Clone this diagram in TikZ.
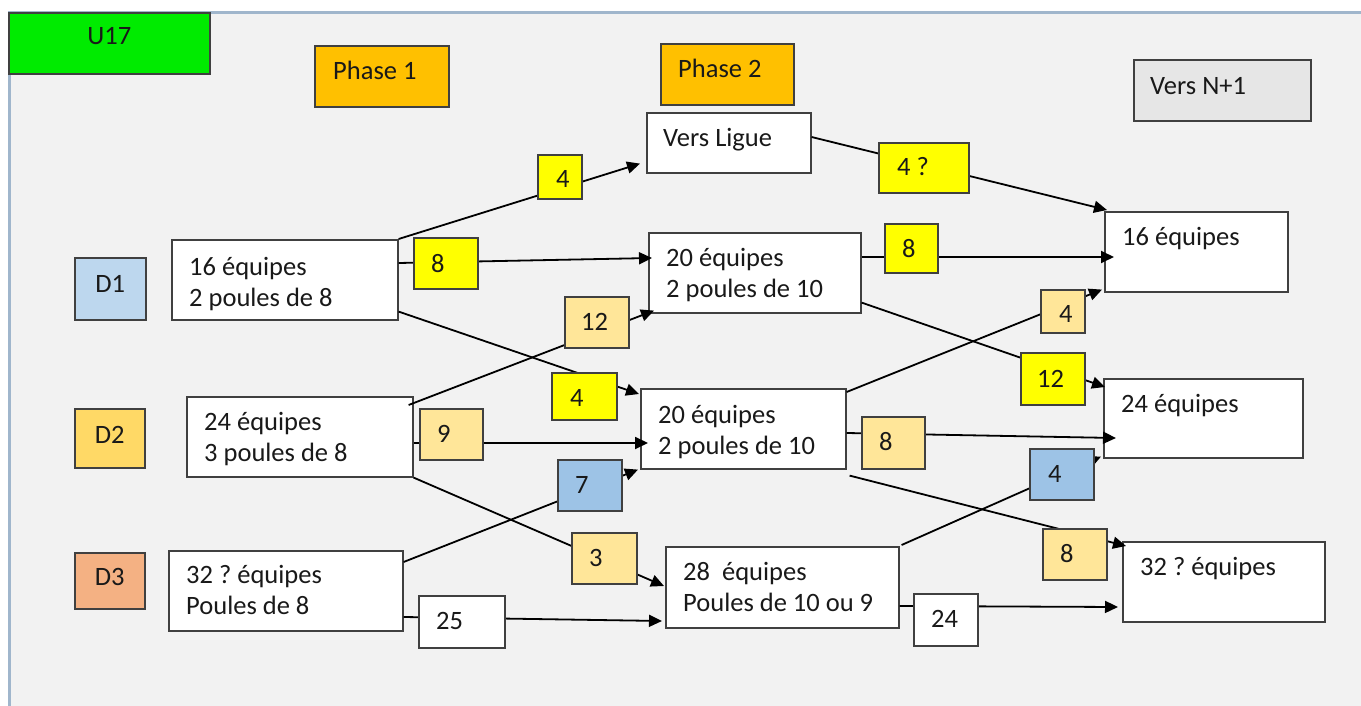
\documentclass[tikz,border=0pt]{standalone}
\usepackage{fontspec}
\setmainfont{Carlito}
\usetikzlibrary{calc,arrows.meta}
\pgfdeclarelayer{panel}
\pgfsetlayers{panel,main}
\definecolor{panelgray}{RGB}{242,242,242}
\definecolor{framecol}{RGB}{160,182,204}
\definecolor{u17green}{RGB}{0,235,0}
\definecolor{phaseorange}{RGB}{255,192,0}
\definecolor{nplus}{RGB}{230,230,230}
\definecolor{d1blue}{RGB}{189,215,238}
\definecolor{d2gold}{RGB}{255,217,102}
\definecolor{d3salmon}{RGB}{244,177,131}
\definecolor{labyellow}{RGB}{255,255,0}
\definecolor{labgold}{RGB}{255,230,153}
\definecolor{labblue}{RGB}{157,195,230}
\definecolor{edgegray}{RGB}{64,64,64}
\frenchspacing
\newcommand{\mkbox}[6]{\node[boxbase, fill=#2, minimum width={#5-#3}, minimum height={#6-#4}, anchor=north west] (#1) at (#3,#4) {};}
\newcommand{\mktxt}[4]{\node[txt, anchor=base west] (#1t) at ($(#1.north west)+(#2,#3)$) {#4};}
\newcommand{\mkctr}[3]{\node[txt, anchor=base] (#1t) at ($(#1.north)+(0,#2)$) {#3};}
\newcommand{\twol}[2]{\begin{tabular}[t]{@{}l@{}}#1\\#2\end{tabular}}
\begin{document}
\begin{tikzpicture}[x=1pt, y=-1pt,
  boxbase/.style={draw=edgegray, line width=1.6pt, inner sep=0pt, rectangle},
  txt/.style={inner sep=0pt, font=\fontsize{26.5}{31.5}\selectfont\frenchspacing, text=black!90},
  conn/.style={line width=1.8pt, draw=black, -{Triangle[length=13pt,width=12pt]}}]
\useasboundingbox (0,0) rectangle (1361,706);
\begin{pgfonlayer}{panel}
\fill[panelgray] (8,12) rectangle (1361,706);
\draw[framecol, line width=3pt] (9,706) -- (9,13) -- (1361,13);
\end{pgfonlayer}
% headers
\mkbox{U}{u17green}{8}{12}{209}{73}
\mkctr{U}{33}{U17}
\mkbox{PhA}{phaseorange}{314}{45}{448}{106}
\mktxt{PhA}{19}{35}{Phase 1}
\mkbox{PhB}{phaseorange}{660}{43}{793}{104}
\mktxt{PhB}{18}{35}{Phase 2}
\mkbox{NP}{nplus}{1133}{59}{1310}{120}
\mktxt{NP}{17}{36}{Vers N+1}
\mkbox{VL}{white}{646}{112}{810}{172}
\mktxt{VL}{17}{35}{Vers Ligue}
% divisions
\mkbox{DA}{d1blue}{74}{257}{145}{319}
\mkctr{DA}{35}{D1}
\mkbox{DB}{d2gold}{74}{408}{144}{467}
\mkctr{DB}{35}{D2}
\mkbox{DC}{d3salmon}{74}{552}{144}{608}
\mkctr{DC}{33}{D3}
% phase 1
\mkbox{A}{white}{171}{239}{397}{319}
\mktxt{A}{18}{36}{\twol{16 équipes}{2 poules de 8}}
\mkbox{B}{white}{186}{396}{412}{476}
\mktxt{B}{18}{34}{\twol{24 équipes}{3 poules de 8}}
\mkbox{C}{white}{168}{550}{402}{630}
\mktxt{C}{18}{33}{\twol{32 ? équipes}{Poules de 8}}
% phase 2
\mkbox{P}{white}{648}{232}{860}{312}
\mktxt{P}{18}{34}{\twol{20 équipes}{2 poules de 10}}
\mkbox{Q}{white}{640}{388}{845}{468}
\mktxt{Q}{18}{35}{\twol{20 équipes}{2 poules de 10}}
\mkbox{S}{white}{665}{546}{898}{627}
\mktxt{S}{18}{34}{\twol{28\ \ équipes}{Poules de 10 ou 9}}
% results
\mkbox{RA}{white}{1104}{211}{1287}{291}
\mktxt{RA}{18}{34}{16 équipes}
\mkbox{RB}{white}{1103}{378}{1302}{457}
\mktxt{RB}{18}{34}{24 équipes}
\mkbox{RC}{white}{1122}{541}{1324}{621}
\mktxt{RC}{18}{34}{32 ? équipes}
% connectors
\draw[conn] (A.north east) -- ($(VL.south west)+(-6,-10)$);
\draw[conn] ($(A.north east)+(0,24)$) -- ($(P.north west)+(4,26)$);
\draw[conn] ($(A.south east)+(0,-9)$) -- ($(Q.north west)+(-1,6)$);
\draw[conn] ($(B.north east)+(-5,9)$) -- ($(P.south west)+(6,-3)$);
\draw[conn] ($(B.north east)+(0,47)$) -- ($(Q.north west)+(8,55)$);
\draw[conn] (B.south east) -- ($(S.north west)+(-1,40)$);
\draw[conn] ($(C.north east)+(0,12)$) -- ($(Q.south west)+(-2,0)$);
\draw[conn] ($(C.north east)+(0,67)$) -- ($(S.north west)+(-3,75)$);
\draw[conn] ($(VL.north east)+(0,25)$) -- ($(RA.north west)+(3,-1)$);
\draw[conn] ($(P.north east)+(0,25)$) -- ($(RA.north west)+(10,46)$);
\draw[conn] ($(P.south east)+(0,-11)$) -- ($(RB.north west)+(2,9)$);
\draw[conn] ($(Q.north east)+(0,4)$) -- ($(RA.south west)+(-2,-3)$);
\draw[conn] ($(Q.north east)+(0,45)$) -- ($(RB.north west)+(13,60)$);
\draw[conn] ($(Q.south east)+(3,6)$) -- ($(RC.north west)+(4,5)$);
\draw[conn] ($(S.north east)+(2,-1)$) -- ($(RB.south west)+(-2,-2)$);
\draw[conn] ($(S.north east)+(0,60)$) -- ($(RC.north west)+(-4,66)$);
% flow labels
\mkbox{La}{labyellow}{537}{154}{581}{198}\mktxt{La}{19}{34}{4}
\mkbox{Lb}{labyellow}{413}{237}{477}{288}\mktxt{Lb}{18}{35}{8}
\mkbox{Lc}{labgold}{564}{296}{628}{347}\mktxt{Lc}{17}{34}{12}
\mkbox{Ld}{labyellow}{551}{372}{616}{419}\mktxt{Ld}{19}{34}{4}
\mkbox{Le}{labgold}{419}{408}{482}{459}\mktxt{Le}{18}{34}{9}
\mkbox{Lf}{labblue}{557}{459}{621}{510}\mktxt{Lf}{18}{34}{7}
\mkbox{Lg}{labgold}{571}{532}{636}{583}\mktxt{Lg}{18}{34}{3}
\mkbox{Lh}{white}{418}{595}{504}{647}\mktxt{Lh}{18}{34}{25}
\mkbox{Li}{labyellow}{878}{142}{968}{192}\mktxt{Li}{19}{34}{4 ?}
\mkbox{Lj}{labyellow}{884}{223}{937}{272}\mktxt{Lj}{18}{34}{8}
\mkbox{Lk}{labgold}{1040}{289}{1084}{332}\mktxt{Lk}{19}{33}{4}
\mkbox{Ll}{labyellow}{1020}{352}{1084}{404}\mktxt{Ll}{17}{35}{12}
\mkbox{Lm}{labgold}{861}{416}{924}{468}\mktxt{Lm}{18}{34}{8}
\mkbox{Ln}{labblue}{1029}{448}{1093}{499}\mktxt{Ln}{19}{34}{4}
\mkbox{Lo}{labgold}{1042}{528}{1106}{579}\mktxt{Lo}{18}{34}{8}
\mkbox{Lp}{white}{913}{593}{977}{645}\mktxt{Lp}{18}{34}{24}
\end{tikzpicture}
\end{document}
